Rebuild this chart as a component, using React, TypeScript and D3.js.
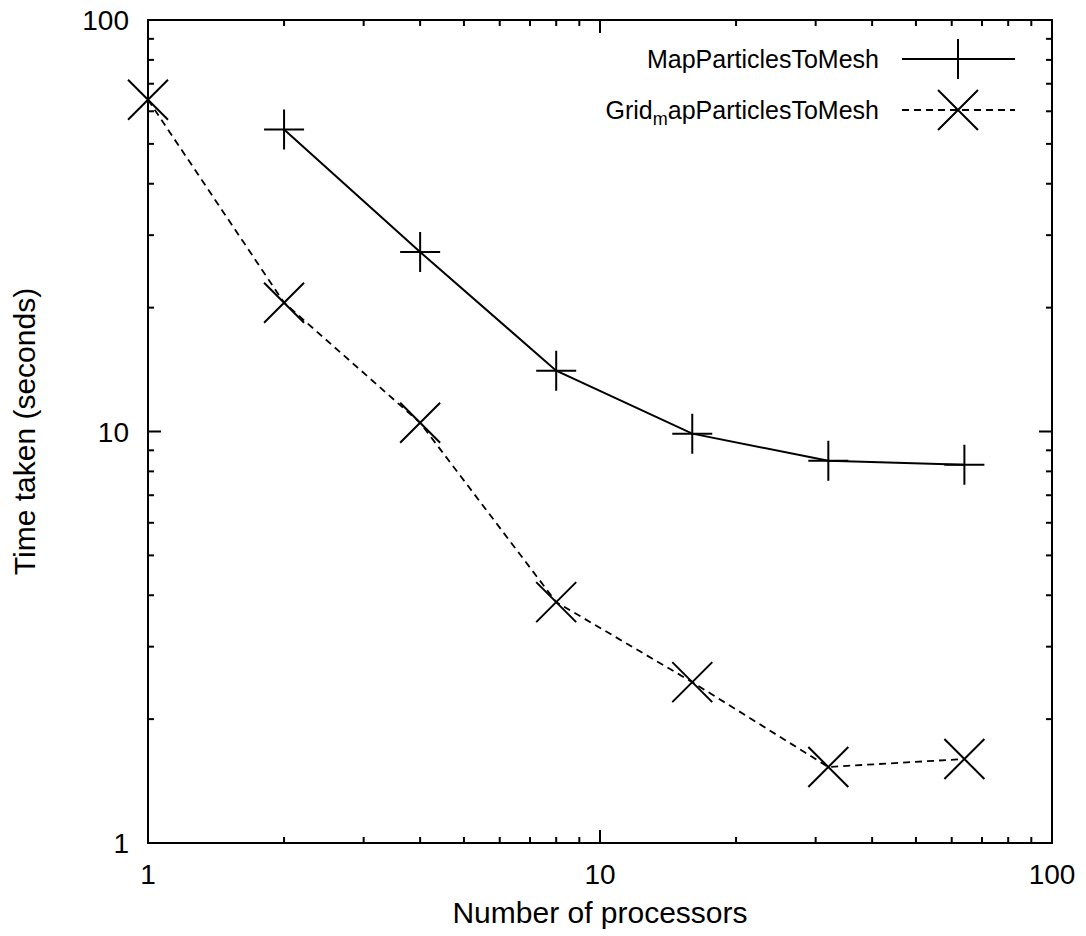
import * as d3 from "d3";
import React from "react";

const procs = [1, 2, 4, 8, 16, 32, 64];
const mapParticles = [null, 54.2, 27.3, 14.05, 9.88, 8.49, 8.3];
const gridMapParticles = [64.0, 20.56, 10.5, 3.85, 2.46, 1.53, 1.6];
const majorTicks = [1, 10, 100];
const tickLabels = ["1", "10", "100"];

const width = 1086;
const height = 936;
const marginLeft = 148;
const marginRight = 34;
const marginTop = 20;
const marginBottom = 93;
const font = "'Liberation Sans', Arial, sans-serif";

function minorTicks() {
  const out: number[] = [];
  for (const d of [1, 10]) for (let k = 2; k <= 9; k++) out.push(d * k);
  return out;
}

function PlusMark({ x, y }: { x: number; y: number }) {
  const s = 20;
  return (
    <path d={`M${x - s},${y}H${x + s}M${x},${y - s}V${y + s}`} stroke="#000" strokeWidth={2} />
  );
}

function CrossMark({ x, y }: { x: number; y: number }) {
  const s = 20;
  return (
    <path
      d={`M${x - s},${y - s}L${x + s},${y + s}M${x - s},${y + s}L${x + s},${y - s}`}
      stroke="#000"
      strokeWidth={2}
    />
  );
}

export default function App() {
  const x = d3.scaleLog().domain([1, 100]).range([marginLeft, width - marginRight]);
  const y = d3.scaleLog().domain([1, 100]).range([height - marginBottom, marginTop]);
  const x0 = x.range()[0], x1 = x.range()[1];
  const y0 = y.range()[0], y1 = y.range()[1];

  const pts1 = procs
    .map((p, i) => [p, mapParticles[i]] as [number, number | null])
    .filter((d) => d[1] != null) as [number, number][];
  const pts2 = procs.map((p, i) => [p, gridMapParticles[i]] as [number, number]);
  const line = d3
    .line<[number, number]>()
    .x((d) => x(d[0]))
    .y((d) => y(d[1]));

  const minors = minorTicks();
  const major = 13;
  const minor = 6;

  return (
    <svg width={width} height={height} style={{ display: "block", position: "absolute", left: 0, top: 0 }}>
      <rect width={width} height={height} fill="#fff" />
      <g stroke="#000" strokeWidth={2}>
        {majorTicks.map((t) => (
          <g key={"mx" + t}>
            <line x1={x(t)} x2={x(t)} y1={y0} y2={y0 - major} />
            <line x1={x(t)} x2={x(t)} y1={y1} y2={y1 + major} />
            <line x1={x0} x2={x0 + major} y1={y(t)} y2={y(t)} />
            <line x1={x1} x2={x1 - major} y1={y(t)} y2={y(t)} />
          </g>
        ))}
        {minors.map((t) => (
          <g key={"mn" + t}>
            <line x1={x(t)} x2={x(t)} y1={y0} y2={y0 - minor} />
            <line x1={x(t)} x2={x(t)} y1={y1} y2={y1 + minor} />
            <line x1={x0} x2={x0 + minor} y1={y(t)} y2={y(t)} />
            <line x1={x1} x2={x1 - minor} y1={y(t)} y2={y(t)} />
          </g>
        ))}
      </g>
      <g fontFamily={font} fontSize={28} fill="#000">
        {majorTicks.map((t, i) => (
          <text key={"yl" + t} x={x0 - 19} y={y(t)} dy="0.36em" textAnchor="end">
            {tickLabels[i]}
          </text>
        ))}
        {majorTicks.map((t, i) => (
          <text key={"xl" + t} x={x(t)} y={y0 + 41} textAnchor="middle">
            {tickLabels[i]}
          </text>
        ))}
      </g>
      <g fontFamily={font} fontSize={30} fill="#000">
        <text x={(x0 + x1) / 2} y={923} textAnchor="middle">
          Number of processors
        </text>
        <text transform={`translate(35,${(y0 + y1) / 2}) rotate(-90)`} textAnchor="middle">
          Time taken (seconds)
        </text>
      </g>

      <path d={line(pts1) ?? ""} fill="none" stroke="#000" strokeWidth={2} />
      <path d={line(pts2) ?? ""} fill="none" stroke="#000" strokeWidth={1.8} strokeDasharray="7,5" />
      {pts1.map((d, i) => (
        <PlusMark key={"p" + i} x={x(d[0])} y={y(d[1])} />
      ))}
      {pts2.map((d, i) => (
        <CrossMark key={"c" + i} x={x(d[0])} y={y(d[1])} />
      ))}

      <g fontFamily={font} fontSize={25} fill="#000">
        <text x={879} y={59} dy="0.36em" textAnchor="end">
          MapParticlesToMesh
        </text>
        <text x={879} y={110} dy="0.36em" textAnchor="end">
          Grid
          <tspan fontSize={18} dy="6">m</tspan>
          <tspan dy="-6">apParticlesToMesh</tspan>
        </text>
      </g>
      <line x1={902} x2={1015} y1={59} y2={59} stroke="#000" strokeWidth={2} />
      <PlusMark x={958} y={59} />
      <line x1={902} x2={1015} y1={110} y2={110} stroke="#000" strokeWidth={1.8} strokeDasharray="7,5" />
      <CrossMark x={958} y={110} />

      <rect x={x0} y={y1} width={x1 - x0} height={y0 - y1} fill="none" stroke="#000" strokeWidth={2} />
    </svg>
  );
}
